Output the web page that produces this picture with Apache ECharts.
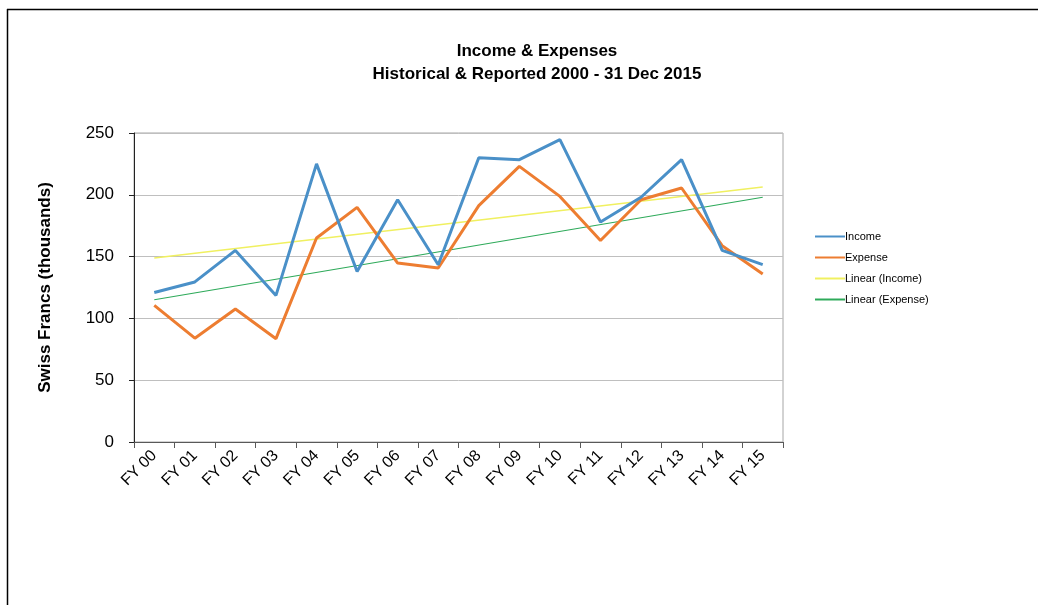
<!DOCTYPE html>
<html>
<head>
<meta charset="utf-8">
<script src="https://cdn.jsdelivr.net/npm/echarts@6/dist/echarts.min.js"></script>
<style>html,body{margin:0;padding:0;background:#fff;}#c{width:1038px;height:605px;}</style>
</head>
<body>
<div id="c"></div>
<script>
var categories = ['FY 00','FY 01','FY 02','FY 03','FY 04','FY 05','FY 06','FY 07','FY 08','FY 09','FY 10','FY 11','FY 12','FY 13','FY 14','FY 15'];
var income  = [121, 129.5, 155, 118.6, 225, 138, 196, 143.4, 230, 228.4, 244.6, 178, 198, 228.4, 155, 143.5];
var expense = [110.5, 84, 107.6, 83.6, 165, 189.8, 144.8, 140.8, 191.2, 223, 198.7, 163, 196, 205.5, 158.8, 136];
var trendIncome  = [['FY 00', 148.8], ['FY 15', 206.3]];
var trendExpense = [['FY 00', 115.1], ['FY 15', 198]];
var yTicks = [0, 50, 100, 150, 200, 250];

var narrow = "'Liberation Sans Narrow', 'Arial Narrow', 'Liberation Sans', Arial, sans-serif";
var chart = echarts.init(document.getElementById('c'));
chart.setOption({
  animation: false,
  backgroundColor: '#fff',
  title: {
    text: 'Income & Expenses\nHistorical & Reported 2000 - 31 Dec 2015',
    left: 532, top: 35, textAlign: 'center',
    textStyle: {fontFamily: narrow, fontWeight: 'bold', fontSize: 17, lineHeight: 23, color: '#000'}
  },
  legend: {
    orient: 'vertical', left: 810, top: 226, itemGap: 10, itemWidth: 30, itemHeight: 10,
    icon: 'path://M0,4 L30,4 L30,6 L0,6 Z',
    textStyle: {fontFamily: narrow, fontSize: 11, color: '#000', padding: [0,0,0,-5]},
    data: ['Income', 'Expense', 'Linear (Income)', 'Linear (Expense)']
  },
  grid: {left: 134, right: 255, top: 133, bottom: 163, show: true, borderColor: '#a6a6a6', borderWidth: 1},
  xAxis: {
    type: 'category', data: categories, boundaryGap: true,
    axisLine: {lineStyle: {color: '#595959', width: 1}},
    axisTick: {show: true, length: 6, lineStyle: {color: '#595959'}},
    axisLabel: {rotate: 45, fontFamily: "'Liberation Sans', Arial, sans-serif", fontSize: 16, color: '#000', margin: 11}
  },
  yAxis: {
    type: 'value', min: 0, max: 250, interval: 50,
    name: 'Swiss Francs (thousands)', nameLocation: 'middle', nameGap: 80, nameRotate: 90,
    nameTextStyle: {fontFamily: "'Liberation Sans', Arial, sans-serif", fontWeight: 'bold', fontSize: 17, color: '#000'},
    axisLine: {show: true, lineStyle: {color: '#222', width: 1}},
    axisTick: {show: true, length: 5, lineStyle: {color: '#222'}},
    axisLabel: {fontFamily: "'Liberation Sans', Arial, sans-serif", fontSize: 17, color: '#000', margin: 20,
      formatter: function (v) { return yTicks.indexOf(v) >= 0 ? String(v) : ''; }},
    splitLine: {lineStyle: {color: '#bfbfbf', width: 1}}
  },
  series: [
    {name: 'Income', type: 'line', data: income, symbol: 'none', lineStyle: {color: '#4a90c8', width: 3}, itemStyle: {color: '#4a90c8'}, z: 4},
    {name: 'Expense', type: 'line', data: expense, symbol: 'none', lineStyle: {color: '#ed7d31', width: 3}, itemStyle: {color: '#ed7d31'}, z: 3},
    {name: 'Linear (Income)', type: 'line', data: trendIncome, symbol: 'none', lineStyle: {color: '#f0f060', width: 1.5}, itemStyle: {color: '#f0f060'}, z: 2},
    {name: 'Linear (Expense)', type: 'line', data: trendExpense, symbol: 'none', lineStyle: {color: '#2eaa5a', width: 1.2}, itemStyle: {color: '#2eaa5a'}, z: 2}
  ],
  graphic: [
    {type: 'line', shape: {x1: 7, y1: 9.5, x2: 1038, y2: 9.5}, style: {stroke: '#000', lineWidth: 1.5}},
    {type: 'line', shape: {x1: 7.5, y1: 9, x2: 7.5, y2: 605}, style: {stroke: '#000', lineWidth: 1.5}}
  ]
});
</script>
</body>
</html>
